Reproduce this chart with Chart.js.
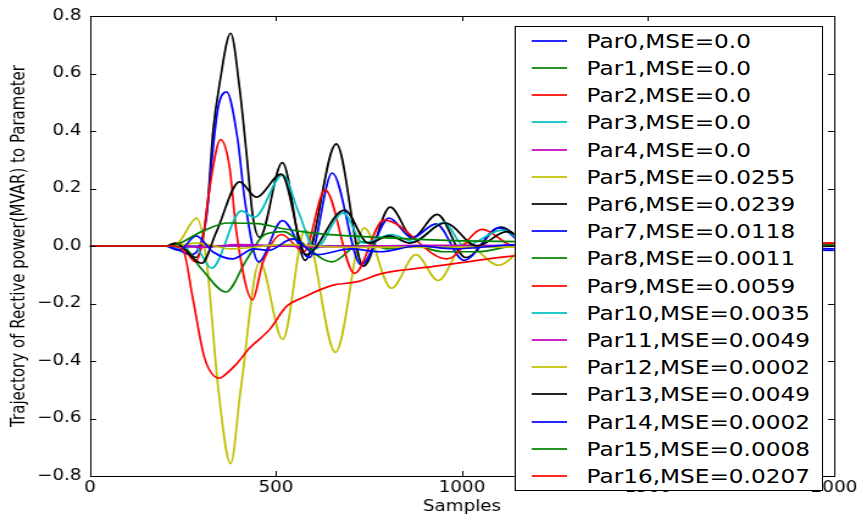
<!DOCTYPE html>
<html>
<head>
<meta charset="utf-8">
<script src="https://cdn.jsdelivr.net/npm/chart.js@4.4.1/dist/chart.umd.min.js"></script>
<style>
html,body{margin:0;padding:0;background:#fff;overflow:hidden;width:861px;height:519px;}
#wrap{position:absolute;left:0;top:0;width:706px;height:519px;transform:scaleX(1.2195);transform-origin:0 0;}
#c{position:absolute;left:0;top:0;width:706px;height:519px;}
#legend{position:absolute;left:421.5px;top:26px;width:253px;height:465px;box-sizing:border-box;border:1px solid #000;background:#fff;font-family:"DejaVu Sans",sans-serif;font-size:19px;color:#000;}
.row{position:absolute;left:0;width:100%;height:28px;}
.ln{position:absolute;left:13px;top:13px;width:29px;height:2px;opacity:0.85;}
.tx{position:absolute;left:58.5px;top:0;line-height:28px;white-space:nowrap;}
</style>
</head>
<body>
<div id="wrap">
<canvas id="c" width="706" height="519"></canvas>
<div id="legend"></div>
</div>
<script>
// ---- data (x = sample index, y = trajectory value) ----
const xTicks = [0, 500, 1000, 1500, 2000];
const yTicks = [-0.8, -0.6, -0.4, -0.2, 0.0, 0.2, 0.4, 0.6, 0.8];
const mse = ["0.0","0.0","0.0","0.0","0.0","0.0255","0.0239","0.0118","0.0011","0.0059","0.0035","0.0049","0.0002","0.0049","0.0002","0.0008","0.0207"];
const colors = ["#0000ff","#008000","#ff0000","#00bfbf","#bf00bf","#bfbf00","#000000"];

const par0 = [[0,0],[2000,0]];
const par1 = [[0,0],[2000,0]];
const par2 = [[0,0],[2000,0]];
const par3 = [[0,0],[2000,0]];
const par4 = [[0,0],[2000,0]];
const par5 = [[0,0],[215,0],[240,0.015],[287,0.097],[313,-0.05],[345,-0.5],[378,-0.757],[405,-0.5],[456,-0.055],[518,-0.325],[578,0.056],[660,-0.37],[737,0.063],[810,-0.147],[876,-0.03],[936,-0.12],[1008,0.01],[1099,-0.067],[1180,0.0],[1260,-0.04],[1400,-0.01],[1600,-0.01],[2000,0.005]];
const par6 = [[0,0],[205,0],[228,0.01],[250,0],[285,-0.04],[317,0.16],[330,0.39],[349,0.57],[378,0.74],[402,0.55],[420,0.33],[438,0.1],[456,0.03],[517,0.29],[578,-0.05],[662,0.355],[735,-0.07],[807,0.135],[868,0.03],[933,0.11],[1010,-0.04],[1105,0.066],[1190,0.0],[1270,0.03],[1400,0.0],[1600,0.008],[2000,0.0]];
const par7 = [[0,0],[205,0],[225,-0.005],[270,-0.03],[295,0.0],[313,0.1],[330,0.33],[344,0.48],[367,0.536],[397,0.37],[416,0.16],[453,-0.055],[517,0.088],[590,-0.04],[651,0.254],[729,-0.066],[804,0.097],[866,0.028],[930,0.077],[1005,-0.05],[1099,0.063],[1180,0.0],[1260,0.03],[1400,0.0],[1600,0.005],[2000,-0.01]];
const par8 = [[0,0],[215,0],[240,0.005],[300,-0.08],[365,-0.16],[420,-0.05],[470,0.04],[520,0.05],[560,0.02],[650,-0.055],[735,0.015],[800,-0.01],[870,0.0],[950,-0.02],[1040,-0.02],[1150,0.0],[1400,-0.005],[2000,0.0]];
const par9 = [[0,0],[210,0],[240,0.01],[283,-0.055],[303,0.02],[322,0.205],[351,0.37],[375,0.275],[394,0.045],[437,-0.187],[464,-0.06],[515,0.04],[575,-0.02],[632,0.195],[711,-0.095],[790,0.09],[960,-0.045],[1055,0.058],[1140,0.0],[1220,0.03],[1400,0.0],[1600,0.01],[2000,0.01]];
const par10 = [[0,0],[215,0],[250,-0.01],[280,0.0],[327,-0.077],[407,0.122],[442,0.1],[518,0.247],[560,0.12],[605,-0.01],[680,0.115],[735,0.01],[810,0.04],[870,0.015],[952,0.083],[1005,0.0],[1108,0.055],[1190,0.0],[1400,0.01],[2000,0.0]];
const par11 = [[0,0],[220,0],[300,-0.005],[400,0.005],[600,-0.003],[900,0.002],[2000,0.0]];
const par12 = [[0,0],[220,0],[290,0.01],[380,-0.01],[520,0.005],[700,-0.005],[2000,0.0]];
const par13 = [[0,0],[210,0],[230,0.008],[300,-0.06],[340,0.05],[402,0.223],[447,0.17],[514,0.25],[581,-0.03],[684,0.125],[748,0.01],[805,0.035],[860,0.01],[955,0.08],[1040,0.0],[1120,0.05],[1200,0.0],[1400,0.01],[2000,0.0]];
const par14 = [[0,0],[200,0],[240,-0.015],[285,0.035],[330,-0.02],[383,-0.045],[440,-0.01],[480,-0.015],[545,0.025],[610,-0.03],[700,-0.01],[780,-0.02],[880,0.0],[980,-0.01],[1150,0.005],[1400,0.0],[2000,-0.015]];
const par15 = [[0,0],[215,0],[300,0.05],[370,0.08],[450,0.078],[520,0.06],[600,0.045],[700,0.035],[800,0.028],[900,0.022],[1000,0.018],[1150,0.015],[1400,0.01],[2000,0.005]];
const par16 = [[0,0],[215,0],[250,-0.014],[276,-0.18],[308,-0.39],[349,-0.46],[356,-0.455],[394,-0.41],[429,-0.355],[483,-0.29],[528,-0.21],[571,-0.18],[651,-0.137],[716,-0.125],[786,-0.095],[920,-0.072],[1134,-0.035],[1400,-0.01],[1700,0.005],[2000,0.01]];

const allSeries = [par0,par1,par2,par3,par4,par5,par6,par7,par8,par9,par10,par11,par12,par13,par14,par15,par16];
const labels = allSeries.map((s, i) => `Par${i},MSE=${mse[i]}`);

// ---- chart ----
Chart.defaults.font.family = "'DejaVu Sans', sans-serif";
Chart.defaults.color = '#000';

const datasets = allSeries.map((s, i) => ({
  label: labels[i],
  data: s.map(p => ({x: p[0], y: p[1]})),
  borderColor: colors[i % colors.length],
  backgroundColor: colors[i % colors.length],
  borderWidth: 1.7,
  pointRadius: 0,
  fill: false,
  cubicInterpolationMode: 'monotone',
  order: allSeries.length - i
}));

const frame = {
  id: 'frame',
  afterDatasetsDraw(chart) {
    const {ctx, chartArea: a, scales: {x, y}} = chart;
    ctx.save();
    ctx.strokeStyle = '#000';
    ctx.lineWidth = 1;
    ctx.beginPath();
    xTicks.forEach(v => {
      const px = Math.round(x.getPixelForValue(v)) + 0.5;
      ctx.moveTo(px, a.bottom); ctx.lineTo(px, a.bottom - 5);
      ctx.moveTo(px, a.top); ctx.lineTo(px, a.top + 5);
    });
    yTicks.forEach(v => {
      const py = Math.round(y.getPixelForValue(v)) + 0.5;
      ctx.moveTo(a.left, py); ctx.lineTo(a.left + 5, py);
      ctx.moveTo(a.right, py); ctx.lineTo(a.right - 5, py);
    });
    ctx.stroke();
    ctx.strokeRect(Math.round(a.left) + 0.5, Math.round(a.top) + 0.5, Math.round(a.right - a.left), Math.round(a.bottom - a.top));
    ctx.restore();
  }
};

new Chart(document.getElementById('c'), {
  type: 'line',
  data: {datasets},
  options: {
    responsive: false,
    animation: false,
    events: [],
    layout: {padding: {left: 0, right: 21.6, top: 16, bottom: 0}},
    plugins: {legend: {display: false}, tooltip: {enabled: false}},
    scales: {
      x: {
        type: 'linear', min: 0, max: 2000,
        afterBuildTicks: s => { s.ticks = xTicks.map(v => ({value: v})); },
        afterFit: s => { s.height = 43; },
        grid: {display: false, drawTicks: false},
        border: {display: false},
        ticks: {font: {size: 15}, padding: 3, maxRotation: 0, autoSkip: false, callback: v => String(v)},
        title: {display: true, text: 'Samples', font: {size: 15}, padding: {top: 0, bottom: 3}}
      },
      y: {
        type: 'linear', min: -0.8, max: 0.8,
        afterBuildTicks: s => { s.ticks = yTicks.map(v => ({value: v})); },
        afterFit: s => { s.width = 73.8; },
        grid: {display: false, drawTicks: false},
        border: {display: false},
        ticks: {font: {size: 15}, padding: 7, autoSkip: false,
          callback: v => { const t = Math.abs(v) < 1e-9 ? '0.0' : v.toFixed(1); return t.replace('-', '\u2212'); }},
        title: {display: true, text: 'Trajectory of Rective power(MVAR) to Parameter', font: {size: 15}, padding: {top: 7, bottom: 0}}
      }
    }
  },
  plugins: [frame]
});

// ---- legend (HTML text) ----
const leg = document.getElementById('legend');
labels.forEach((t, i) => {
  const row = document.createElement('div');
  row.className = 'row';
  row.style.top = Math.round(14.7 + 27.2 * i - 14 - 1) + 'px';
  const ln = document.createElement('span');
  ln.className = 'ln';
  ln.style.background = colors[i % colors.length];
  const tx = document.createElement('span');
  tx.className = 'tx';
  tx.textContent = t;
  row.appendChild(ln); row.appendChild(tx);
  leg.appendChild(row);
});
</script>
</body>
</html>
